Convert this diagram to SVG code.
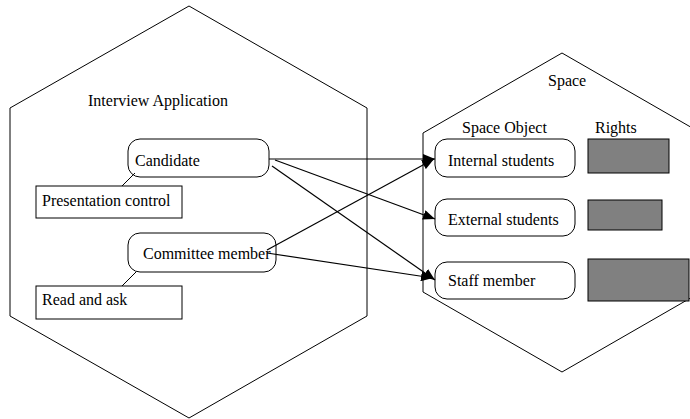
<svg xmlns="http://www.w3.org/2000/svg" width="690" height="419" viewBox="0 0 690 419">
  <defs>
    <marker id="arrow" markerWidth="12" markerHeight="10" refX="12" refY="5" orient="auto" markerUnits="userSpaceOnUse">
      <path d="M0,0 L12,5 L0,10 Z" fill="#000"/>
    </marker>
  </defs>
  <style>
    .hex { fill: none; stroke: #000; stroke-width: 1; }
    .role { fill: #fff; stroke: #000; stroke-width: 1; }
    .box { fill: #fff; stroke: #000; stroke-width: 1; }
    .right { fill: #808080; stroke: #000; stroke-width: 1; }
    .link { stroke: #000; stroke-width: 1.2; fill: none; }
    .tie { stroke: #000; stroke-width: 1; fill: none; }
    text { font-family: "Liberation Serif", "Times New Roman", serif; font-size: 16px; fill: #000; }
  </style>
  <rect width="690" height="419" fill="#fff"/>

  <!-- Interview application container -->
  <g id="interview-application">
    <polygon class="hex" points="189,6 367,108 367,316 189,418 10,316 10,108"/>
    <text x="88" y="106">Interview Application</text>
  </g>

  <!-- Space container -->
  <g id="space">
    <polygon class="hex" points="562,53 701,133 701,292 562,372 423,292 423,133"/>
    <text x="548" y="86">Space</text>
    <text x="462" y="133">Space Object</text>
    <text x="595" y="133">Rights</text>
  </g>

  <g id="candidate">
    <rect class="role" x="128" y="139" width="141" height="38" rx="12"/>
    <text x="135" y="166">Candidate</text>
  </g>
  <g id="presentation-control">
    <rect class="box" x="36" y="186" width="146" height="32"/>
    <text x="42" y="206">Presentation control</text>
  </g>
  <g id="committee-member">
    <rect class="role" x="128" y="233" width="148" height="39" rx="12"/>
    <text x="143" y="259">Committee member</text>
  </g>
  <g id="read-and-ask">
    <rect class="box" x="36" y="286" width="146" height="33"/>
    <text x="42" y="305">Read and ask</text>
  </g>

  <g id="internal-students">
    <rect class="role" x="435" y="139" width="140" height="38" rx="12"/>
    <text x="448" y="166">Internal students</text>
  </g>
  <g id="external-students">
    <rect class="role" x="435" y="199" width="140" height="37" rx="12"/>
    <text x="448" y="225">External students</text>
  </g>
  <g id="staff-member">
    <rect class="role" x="435" y="262" width="140" height="37" rx="12"/>
    <text x="448" y="286">Staff member</text>
  </g>

  <g id="rights-internal"><rect class="right" x="588" y="139" width="81" height="34"/></g>
  <g id="rights-external"><rect class="right" x="588" y="200" width="74" height="30"/></g>
  <g id="rights-staff"><rect class="right" x="588" y="259" width="101" height="42"/></g>

  <!-- Connectors -->
  <g id="connectors">
    <line class="tie" x1="135" y1="173" x2="122" y2="186"/>
    <line class="tie" x1="136" y1="272" x2="122" y2="286"/>
    <line class="link" x1="269" y1="159" x2="435" y2="159" marker-end="url(#arrow)"/>
    <line class="link" x1="275" y1="160" x2="435" y2="219" marker-end="url(#arrow)"/>
    <line class="link" x1="272" y1="166" x2="435" y2="280" marker-end="url(#arrow)"/>
    <line class="link" x1="267" y1="250" x2="434" y2="159" marker-end="url(#arrow)"/>
    <line class="link" x1="267" y1="253" x2="433" y2="278" marker-end="url(#arrow)"/>
  </g>
</svg>
